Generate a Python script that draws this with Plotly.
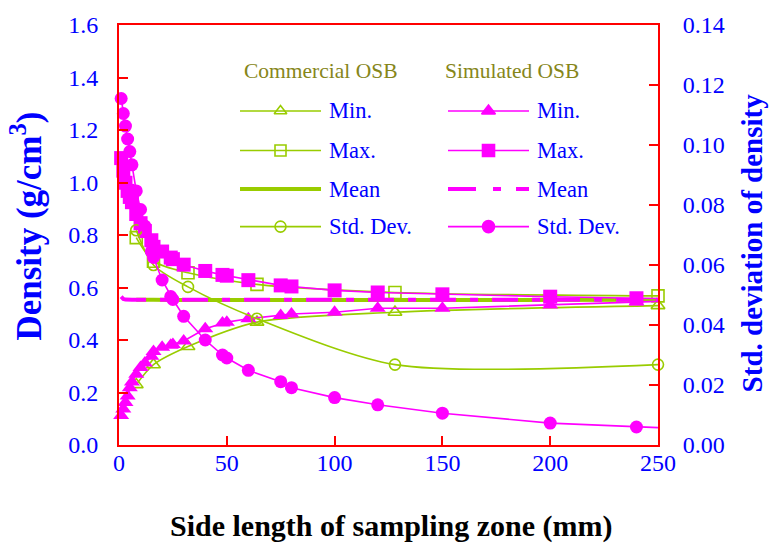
import plotly.graph_objects as go

# ---------------- data ----------------
# Commercial OSB (markers at every point, smooth connection)
COM_X = [8, 16, 32, 64, 128, 250]
COM_MIN = [0.230, 0.306, 0.375, 0.468, 0.506, 0.531]
COM_MAX = [0.790, 0.700, 0.656, 0.612, 0.581, 0.568]
COM_MEAN = [0.553, 0.553, 0.552, 0.552, 0.552, 0.553]
COM_STD = [0.0716, 0.0600, 0.0527, 0.0421, 0.0268, 0.0268]

# Simulated OSB (last point, 250 mm, is drawn as line only)
SIM_X = [1, 2, 3, 4, 5, 6, 8, 10, 12, 15, 16, 20, 24, 25, 30, 40, 48, 50, 60,
         75, 80, 100, 120, 150, 200, 240, 250]
SIM_MIN = [0.112, 0.137, 0.162, 0.187, 0.218, 0.240, 0.270, 0.295, 0.312, 0.338,
           0.356, 0.372, 0.380, 0.383, 0.396, 0.443, 0.465, 0.468, 0.481, 0.493,
           0.499, 0.506, 0.521, 0.521, 0.533, 0.545, 0.547]
SIM_MAX = [1.093, 1.045, 0.999, 0.968, 0.945, 0.925, 0.880, 0.845, 0.815, 0.780,
           0.755, 0.737, 0.714, 0.708, 0.687, 0.663, 0.648, 0.645, 0.628, 0.608,
           0.604, 0.589, 0.581, 0.574, 0.565, 0.559, 0.558]
SIM_MEAN = [0.565, 0.556, 0.554, 0.553, 0.553, 0.553, 0.553, 0.553, 0.553, 0.553,
            0.553, 0.553, 0.553, 0.553, 0.553, 0.553, 0.553, 0.553, 0.553, 0.553,
            0.553, 0.553, 0.553, 0.553, 0.553, 0.553, 0.553]
SIM_STD = [0.1155, 0.1105, 0.1063, 0.1020, 0.0978, 0.0934, 0.0847, 0.0785, 0.0730,
           0.0645, 0.0625, 0.0550, 0.0495, 0.0485, 0.0429, 0.0350, 0.0300, 0.0290,
           0.0249, 0.0211, 0.0191, 0.0158, 0.0134, 0.0106, 0.0073, 0.0060, 0.0058]

X_TICKS = [0, 50, 100, 150, 200, 250]
LEGEND_LABELS = ["Min.", "Max.", "Mean", "Std. Dev."]
GROUP_TITLES = ["Commercial OSB", "Simulated OSB"]

# ---------------- styles ----------------
MAG = "#FF00FF"
GRN = "#99CC00"
RED = "#FF0000"
BLUE = "#0000FF"
OLIVE = "#86861A"
FONT = "Liberation Serif"

fig = go.Figure()

def com_trace(y, symbol, size, yaxis="y", mode="lines+markers", width=1.6):
    fig.add_trace(go.Scatter(
        x=COM_X, y=y, mode=mode, yaxis=yaxis, showlegend=False,
        line=dict(color=GRN, width=width, shape="spline", smoothing=0.8),
        marker=dict(symbol=symbol, size=size, color=GRN,
                    line=dict(color=GRN, width=1.6)),
        cliponaxis=False))

def sim_trace(y, symbol, size, yaxis="y", width=1.6, dash="solid", markers=True):
    fig.add_trace(go.Scatter(
        x=SIM_X, y=y, mode="lines", yaxis=yaxis, showlegend=False,
        line=dict(color=MAG, width=width, dash=dash)))
    if markers:
        fig.add_trace(go.Scatter(
            x=SIM_X[:-1], y=y[:-1], mode="markers", yaxis=yaxis, showlegend=False,
            marker=dict(symbol=symbol, size=size, color=MAG,
                        line=dict(color=MAG, width=0)),
            cliponaxis=False))

# commercial
com_trace(COM_MEAN, "circle", 1, mode="lines", width=4)
com_trace(COM_MIN, "triangle-up-open", 12)
com_trace(COM_MAX, "square-open", 12)
com_trace(COM_STD, "circle-open", 11, yaxis="y2")
# simulated
sim_trace(SIM_MEAN, None, 0, width=4, dash="26px,14px,8px,14px", markers=False)
sim_trace(SIM_MIN, "triangle-up", 14)
sim_trace(SIM_MAX, "square", 14)
sim_trace(SIM_STD, "circle", 13, yaxis="y2")

# ---------------- manual legend (overlay axes in page pixels) ----------------
ROW_Y = [107, 147, 186, 224]
COLS = [dict(x0=240, x1=321, tx=327, color=GRN,
             symbols=["triangle-up-open", "square-open", None, "circle-open"]),
        dict(x0=448, x1=529, tx=535, color=MAG,
             symbols=["triangle-up", "square", None, "circle"])]
annotations = []
for ci, col in enumerate(COLS):
    for ri, (lab, sym) in enumerate(zip(LEGEND_LABELS, col["symbols"])):
        yy = ROW_Y[ri]
        if sym is None:
            dash = "solid" if ci == 0 else "28px,17px,8px,15px"
            fig.add_trace(go.Scatter(x=[col["x0"], col["x1"]], y=[yy, yy], mode="lines",
                                     xaxis="x3", yaxis="y3", showlegend=False,
                                     line=dict(color=col["color"], width=4, dash=dash)))
        else:
            fig.add_trace(go.Scatter(x=[col["x0"], col["x1"]], y=[yy, yy], mode="lines",
                                     xaxis="x3", yaxis="y3", showlegend=False,
                                     line=dict(color=col["color"], width=1.6)))
            fig.add_trace(go.Scatter(x=[(col["x0"] + col["x1"]) / 2], y=[yy], mode="markers",
                                     xaxis="x3", yaxis="y3", showlegend=False,
                                     marker=dict(symbol=sym, size=11 if ci == 0 else 12,
                                                 color=col["color"],
                                                 line=dict(color=col["color"], width=1.6))))
        annotations.append(dict(x=col["tx"], y=yy, xref="x3", yref="y3", text=lab,
                                showarrow=False, xanchor="left", yanchor="middle",
                                font=dict(family=FONT, size=22.5, color=BLUE)))
annotations.append(dict(x=320, y=67, xref="x3", yref="y3", text=GROUP_TITLES[0],
                        showarrow=False, font=dict(family=FONT, size=21.5, color=OLIVE)))
annotations.append(dict(x=512, y=67, xref="x3", yref="y3", text=GROUP_TITLES[1],
                        showarrow=False, font=dict(family=FONT, size=21.5, color=OLIVE)))

# axis titles (paper coordinates; plot area spans px 119..658 x 20..445)
def px_to_paper(px, py):
    return (px - 119) / 539.0, (445 - py) / 425.0

for (px, py, txt, ang, col, sz) in [
        (392, 527, "Side length of sampling zone (mm)", 0, "#000000", 30),
        (27, 224, "Density (g/cm<sup>3</sup>)", -90, BLUE, 35),
        (752, 241, "Std. deviation of density", -90, BLUE, 29)]:
    ax_, ay_ = px_to_paper(px, py)
    annotations.append(dict(x=ax_, y=ay_, xref="paper", yref="paper", text=txt,
                            textangle=ang, showarrow=False, xanchor="center",
                            yanchor="middle",
                            font=dict(family=FONT, size=sz, color=col, weight="bold")))

tickfont = dict(family=FONT, size=24, color=BLUE)
common = dict(showgrid=False, zeroline=False, showline=True, linecolor=RED, linewidth=2,
              ticks="inside", ticklen=9, tickwidth=2, tickcolor=RED, tickfont=tickfont)

fig.update_layout(
    width=769, height=550,
    margin=dict(l=119, r=111, t=20, b=105),
    plot_bgcolor="white", paper_bgcolor="white",
    annotations=annotations,
    xaxis=dict(range=[0, 250], tickvals=X_TICKS, mirror=True, ticklabelstandoff=-5, **common),
    yaxis=dict(range=[0, 1.6], dtick=0.2, tick0=0, tickformat=".1f",
               ticklabelstandoff=14, **common),
    yaxis2=dict(range=[0, 0.14], dtick=0.02, tick0=0, tickformat=".2f", overlaying="y",
                side="right", ticklabelstandoff=18, **common),
    xaxis3=dict(range=[119, 658], overlaying="x", anchor="y3", visible=False),
    yaxis3=dict(range=[445, 20], overlaying="y", anchor="x3", visible=False),
)

fig.write_html("out.html")
